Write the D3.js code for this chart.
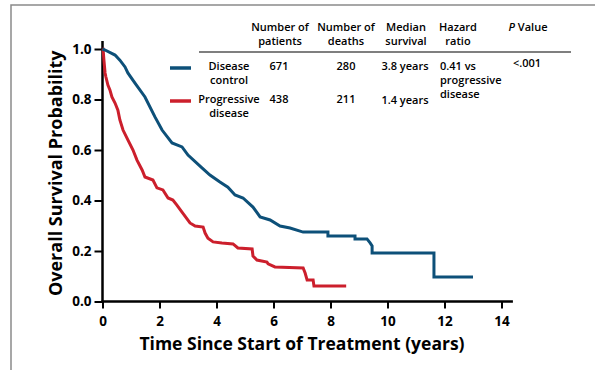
<!DOCTYPE html>
<html>
<head>
<meta charset="utf-8">
<script src="https://cdn.jsdelivr.net/npm/d3@7"></script>
<style>
  body { margin: 0; background: #fff; }
  svg { display: block; font-family: 'Open Sans', sans-serif; }
</style>
</head>
<body>
<div id="chart"></div>
<script>
const WIDTH = 595;
const HEIGHT = 370;

// Disease control curve, traced vertices (years, survival probability)
const dcTime = [0, 0.09, 0.44, 0.61, 0.79, 0.89, 1.14, 1.49, 1.84, 2.09, 2.44, 2.79, 3.0, 3.49, 3.77, 4.12, 4.40, 4.65, 4.93, 5.28, 5.53, 5.88, 6.23, 6.58, 7.04, 7.91, 7.91, 8.86, 8.86, 9.28, 9.39, 9.46, 9.46, 11.63, 11.63, 13.0];
const dcSurv = [1.0, 0.996, 0.976, 0.956, 0.929, 0.905, 0.865, 0.810, 0.731, 0.679, 0.628, 0.612, 0.580, 0.529, 0.501, 0.473, 0.453, 0.422, 0.410, 0.374, 0.335, 0.323, 0.299, 0.291, 0.275, 0.275, 0.259, 0.259, 0.248, 0.248, 0.232, 0.220, 0.192, 0.192, 0.097, 0.097];

// Progressive disease curve
const pdTime = [0, 0.02, 0.05, 0.09, 0.12, 0.19, 0.26, 0.33, 0.44, 0.54, 0.61, 0.72, 0.89, 1.07, 1.21, 1.39, 1.49, 1.77, 1.91, 2.12, 2.30, 2.47, 2.61, 2.79, 3.07, 3.25, 3.53, 3.60, 3.70, 3.88, 4.19, 4.58, 4.75, 5.25, 5.28, 5.42, 5.77, 5.81, 6.05, 7.04, 7.11, 7.18, 7.39, 7.42, 8.55];
const pdSurv = [1.0, 1.0, 0.956, 0.905, 0.889, 0.857, 0.838, 0.810, 0.786, 0.758, 0.719, 0.679, 0.640, 0.600, 0.560, 0.521, 0.493, 0.481, 0.450, 0.442, 0.410, 0.402, 0.382, 0.354, 0.311, 0.299, 0.295, 0.271, 0.251, 0.236, 0.232, 0.228, 0.212, 0.208, 0.180, 0.164, 0.156, 0.149, 0.137, 0.133, 0.113, 0.085, 0.085, 0.061, 0.061];

const xTicks = [0, 2, 4, 6, 8, 10, 12, 14];
const yTicks = [0, 0.2, 0.4, 0.6, 0.8, 1.0];

// summary table
const tableHeaders = [['Number of', 'patients'], ['Number of', 'deaths'], ['Median', 'survival'], ['Hazard', 'ratio'], ['P Value']];
const groupNames = [['Disease', 'control'], ['Progressive', 'disease']];
const patients = ['671', '438'];
const deaths = ['280', '211'];
const medians = ['3.8 years', '1.4 years'];
const hazard = ['0.41 vs', 'progressive', 'disease'];
const pValue = '<.001';

const colors = ['#0d5079', '#cc1f2c'];

const svg = d3.select('#chart').append('svg')
  .attr('width', WIDTH)
  .attr('height', HEIGHT);

// outer frame (top and left only)
svg.append('path')
  .attr('d', `M11,${HEIGHT} L11,5 L${WIDTH},5`)
  .attr('fill', 'none')
  .attr('stroke', '#8a8a8a')
  .attr('stroke-width', 1.5);

const x = d3.scaleLinear().domain([0, 14]).range([102.5, 501.5]);
const y = d3.scaleLinear().domain([0, 1]).range([301.5, 49]);

//axes
const xAxis = d3.axisBottom(x).tickValues(xTicks).tickSize(7).tickSizeOuter(0).tickFormat(d3.format('d'));
const yAxis = d3.axisLeft(y).tickValues(yTicks).tickSize(8).tickSizeOuter(0).tickFormat(d3.format('.1f'));

const xAxisGroup = svg.append('g').attr('transform', `translate(0,${y(0)})`).call(xAxis);
const yAxisGroup = svg.append('g').attr('transform', `translate(${x(0)},0)`).call(yAxis);

[xAxisGroup, yAxisGroup].forEach(g => {
  g.select('.domain').remove();
  g.selectAll('line').attr('stroke', '#000').attr('stroke-width', 2);
  g.selectAll('text')
    .attr('fill', '#000')
    .style('font-size', '13.5px')
    .style('font-weight', 700)
    .style('font-family', "'Open Sans', sans-serif");
});
xAxisGroup.selectAll('text').attr('dy', '1.05em');

// axis lines run a bit past the last tick
svg.append('line')
  .attr('x1', x(0)).attr('x2', x(0))
  .attr('y1', y(1.032)).attr('y2', y(0) + 1)
  .attr('stroke', '#000').attr('stroke-width', 2.5);
svg.append('line')
  .attr('x1', x(0) - 1).attr('x2', x(14.4))
  .attr('y1', y(0)).attr('y2', y(0))
  .attr('stroke', '#000').attr('stroke-width', 2.5);

svg.append('text')
  .attr('transform', `translate(62,${y(0.5) - 2}) rotate(-90)`)
  .attr('text-anchor', 'middle')
  .style('font-size', '18px')
  .style('font-weight', 700)
  .text('Overall Survival Probability');

svg.append('text')
  .attr('x', 302).attr('y', 350)
  .attr('text-anchor', 'middle')
  .style('font-size', '17.5px')
  .style('font-weight', 700)
  .text('Time Since Start of Treatment (years)');

// survival curves (traced vertices, joined straight)
const line = d3.line()
  .x(d => x(d[0]))
  .y(d => y(d[1]));

const series = [d3.zip(dcTime, dcSurv), d3.zip(pdTime, pdSurv)];

svg.selectAll('path.curve')
  .data(series.slice().reverse())
  .enter()
  .append('path')
  .attr('class', 'curve')
  .attr('fill', 'none')
  .attr('stroke', (d, i) => colors[1 - i])
  .attr('stroke-width', 3)
  .attr('stroke-linejoin', 'miter')
  .attr('d', line);

// table
const table = svg.append('g')
  .style('font-size', '11px')
  .style('font-weight', 600);

const colX = [280, 346, 406, 458, 528];
tableHeaders.forEach((h, i) => {
  const t = table.append('text')
    .attr('x', colX[i]).attr('y', 31)
    .attr('text-anchor', 'middle');
  if (h.length === 1) {
    t.append('tspan').style('font-style', 'italic').text('P');
    t.append('tspan').text(' Value');
  } else {
    t.text(h[0]);
    table.append('text')
      .attr('x', colX[i]).attr('y', 45)
      .attr('text-anchor', 'middle')
      .text(h[1]);
  }
});

table.append('line')
  .attr('x1', 199).attr('x2', 571)
  .attr('y1', 52).attr('y2', 52)
  .attr('stroke', '#000').attr('stroke-width', 1.2);

const rowY = [70, 103];
groupNames.forEach((g, i) => {
  table.append('line')
    .attr('x1', 170).attr('x2', 191)
    .attr('y1', rowY[i] - 2).attr('y2', rowY[i] - 2)
    .attr('stroke', colors[i]).attr('stroke-width', 3.5);
  table.append('text').attr('x', 229).attr('y', rowY[i]).attr('text-anchor', 'middle').text(g[0]);
  table.append('text').attr('x', 229).attr('y', rowY[i] + 14).attr('text-anchor', 'middle').text(g[1]);
  table.append('text').attr('x', 279).attr('y', rowY[i]).attr('text-anchor', 'middle').text(patients[i]);
  table.append('text').attr('x', 346).attr('y', rowY[i]).attr('text-anchor', 'middle').text(deaths[i]);
  table.append('text').attr('x', 405).attr('y', rowY[i] + (i ? 1 : 0)).attr('text-anchor', 'middle').text(medians[i]);
});

hazard.forEach((h, i) => {
  table.append('text')
    .attr('x', 440).attr('y', 70 + i * 14)
    .text(h);
});

table.append('text')
  .attr('x', 527).attr('y', 67)
  .attr('text-anchor', 'middle')
  .text(pValue);
</script>
</body>
</html>
